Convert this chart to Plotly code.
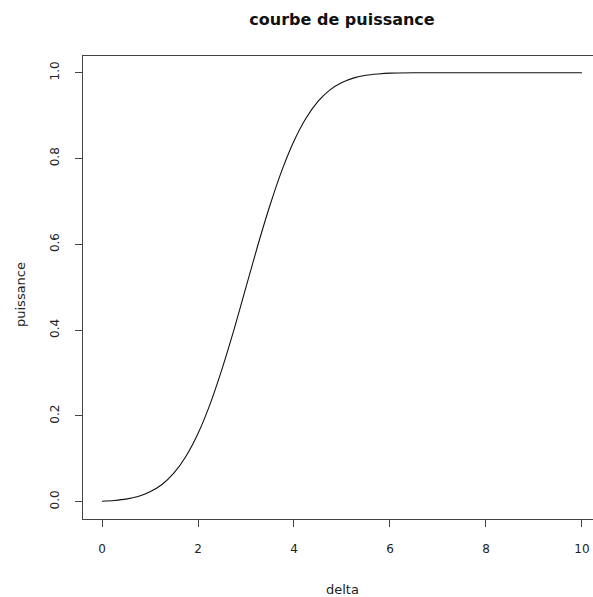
import plotly.graph_objects as go

# values
delta = [0, 0.25, 0.5, 0.75, 1.0, 1.25, 1.5, 1.75, 2.0, 2.25, 2.5, 2.75, 3.0,
         3.25, 3.5, 3.75, 4.0, 4.25, 4.5, 4.75, 5.0, 5.25, 5.5, 5.75, 6.0,
         6.5, 7.0, 7.5, 8.0, 8.5, 9.0, 9.5, 10.0]
puissance = [0.001, 0.003, 0.006, 0.012, 0.023, 0.040, 0.067, 0.106, 0.159,
             0.227, 0.309, 0.401, 0.500, 0.599, 0.691, 0.773, 0.841, 0.894,
             0.933, 0.960, 0.977, 0.988, 0.994, 0.997, 0.999, 1.0, 1.0, 1.0,
             1.0, 1.0, 1.0, 1.0, 1.0]

x_ticks = [0, 2, 4, 6, 8, 10]
y_ticks = [0.0, 0.2, 0.4, 0.6, 0.8, 1.0]
y_tick_labels = ["0.0", "0.2", "0.4", "0.6", "0.8", "1.0"]

FONT = "DejaVu Sans"

fig = go.Figure()
fig.add_trace(go.Scatter(
    x=delta, y=puissance, mode="lines",
    line=dict(color="#111111", width=1.1, shape="spline", smoothing=0.6),
    showlegend=False, hoverinfo="skip"))

W, H = 593, 597
fig.update_layout(
    width=W, height=H,
    margin=dict(l=83, r=0, t=56, b=78),
    paper_bgcolor="white", plot_bgcolor="white",
    font=dict(family=FONT, size=12, color="#222222"),
    title=dict(text="<b>courbe de puissance</b>", x=342 / W, xanchor="center",
               y=1 - 19 / H, yanchor="middle", yref="container",
               font=dict(family=FONT, size=16, color="#111111")),
    xaxis=dict(range=[-0.396, 10.23], tickvals=x_ticks,
               ticktext=[str(v) for v in x_ticks],
               ticks="outside", ticklen=7, tickcolor="#444", tickwidth=1,
               showline=True, linecolor="#444", linewidth=1, mirror=True,
               showgrid=False, zeroline=False, ticklabelstandoff=12,
               tickfont=dict(family=FONT, size=12, color="#222")),
    yaxis=dict(range=[-0.0403, 1.039], tickvals=y_ticks, ticktext=y_tick_labels,
               ticks="outside", ticklen=7, tickcolor="#444", tickwidth=1,
               showline=True, linecolor="#444", linewidth=1, mirror=False,
               showgrid=False, zeroline=False, tickangle=-90,
               ticklabelstandoff=11,
               tickfont=dict(family=FONT, size=12, color="#222")),
    annotations=[
        dict(text="delta", xref="paper", yref="paper",
             x=(342 - 83) / (W - 83), y=-(589 - 519) / (519 - 56),
             xanchor="center", yanchor="middle", showarrow=False,
             font=dict(family=FONT, size=13, color="#222")),
        dict(text="puissance", xref="paper", yref="paper",
             x=-(83 - 20) / (W - 83), y=(519 - 295) / (519 - 56),
             xanchor="center", yanchor="middle", textangle=-90, showarrow=False,
             font=dict(family=FONT, size=13, color="#222")),
    ],
)

fig.write_html("out.html", config={"displayModeBar": False},
               post_script="document.body.style.margin='0';"
                           "document.body.style.overflow='hidden';")
